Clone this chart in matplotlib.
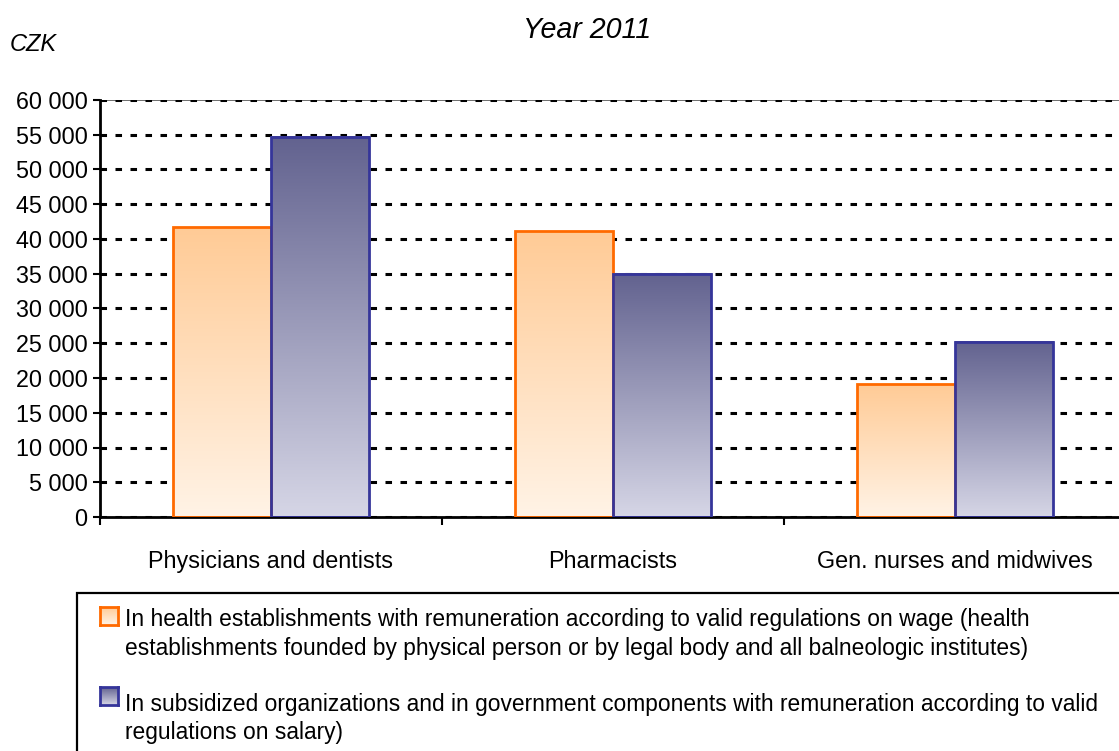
import numpy as np
import matplotlib
matplotlib.use("Agg")
import matplotlib.pyplot as plt
from matplotlib.colors import LinearSegmentedColormap
from matplotlib.patches import Rectangle
from matplotlib.ticker import FuncFormatter

plt.rcParams['font.family'] = ['Liberation Sans', 'DejaVu Sans']
plt.rcParams['lines.scale_dashes'] = False

# data
categories = ["Physicians and dentists", "Pharmacists", "Gen. nurses and midwives"]
health_estab = [41700, 41150, 19100]
subsidized = [54700, 35000, 25200]
series_labels = [
    ["In health establishments with remuneration according to valid regulations on wage (health",
     "establishments founded by physical person or by legal body and all balneologic institutes)"],
    ["In subsidized organizations and in government components with remuneration according to valid",
     "regulations on salary)"],
]
yticks = list(range(0, 60001, 5000))

orange_cmap = LinearSegmentedColormap.from_list("or", ["#FFF3E6", "#FFCB96"])
blue_cmap = LinearSegmentedColormap.from_list("bl", ["#D6D6E6", "#62628F"])
orange_edge = "#FF6A00"
blue_edge = "#35359A"

W, H = 1119, 751
fig = plt.figure(figsize=(W / 100, H / 100), dpi=100)
ax = fig.add_axes([100 / W, 1 - 517 / H, 1026 / W, 417 / H])

grad = np.linspace(0, 1, 256).reshape(-1, 1)
width = 0.287
x = np.arange(len(categories))
fs = 16.8


def gradient_bars(xs, vals, cmap, edge):
    for xi, v in zip(xs, vals):
        ax.imshow(grad, extent=[xi - width / 2, xi + width / 2, 0, v], origin='lower',
                  aspect='auto', cmap=cmap, zorder=2, interpolation='bilinear')
    ax.bar(xs, vals, width=width, fill=False, edgecolor=edge, linewidth=2, zorder=3)


gradient_bars(x - width / 2, health_estab, orange_cmap, orange_edge)
gradient_bars(x + width / 2, subsidized, blue_cmap, blue_edge)

ax.set_xlim(-0.5, 2.5)
ax.set_ylim(0, 60000)
ax.set_yticks(yticks)
ax.yaxis.set_major_formatter(FuncFormatter(lambda v, p: f"{int(v):,}".replace(",", " ")))
ax.yaxis.grid(True, color='black', linewidth=2.2, linestyle=(0, (4.7, 6.1)), zorder=0)
ax.axhline(60000, color='#555555', linewidth=1.2, zorder=0)
ax.set_axisbelow(True)

ax.set_xticks(x)
ax.set_xticklabels(categories)
ax.set_xticks(np.arange(-0.5, 3, 1), minor=True)
ax.tick_params(axis='x', which='major', length=0, pad=24, labelsize=fs)
ax.tick_params(axis='x', which='minor', length=6, width=1.5, direction='out')
ax.tick_params(axis='y', length=5, width=1.5, direction='out', pad=4, labelsize=fs)

for s in ['top', 'right']:
    ax.spines[s].set_visible(False)
for s in ['left', 'bottom']:
    ax.spines[s].set_linewidth(2)

fig.text(587 / W, 1 - 38 / H, "Year 2011", style='italic', fontsize=20.6,
         ha='center', va='baseline')
fig.text(10 / W, 1 - 51 / H, "CZK", style='italic', fontsize=17,
         ha='left', va='baseline')

# legend box
fig.patches.append(Rectangle((77 / W, -0.1), 1.2, 1 - 593 / H + 0.1,
                             transform=fig.transFigure, fill=False,
                             edgecolor='black', linewidth=1.6))
leg_rows = [(607, orange_cmap, orange_edge, 626), (687, blue_cmap, blue_edge, 711)]
for (top, cmap, edge, base), lines in zip(leg_rows, series_labels):
    lax = fig.add_axes([100 / W, 1 - (top + 18) / H, 18 / W, 18 / H])
    lax.imshow(grad, origin='lower', aspect='auto', cmap=cmap, extent=[0, 1, 0, 1])
    lax.set_xticks([])
    lax.set_yticks([])
    for sp in lax.spines.values():
        sp.set_edgecolor(edge)
        sp.set_linewidth(2)
    for i, line in enumerate(lines):
        fig.text(125 / W, 1 - (base + 28.5 * i) / H, line, fontsize=16.4,
                 ha='left', va='baseline')

fig.savefig("out.png", dpi=100)
